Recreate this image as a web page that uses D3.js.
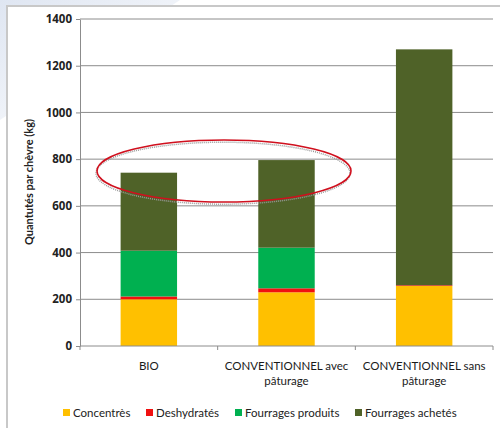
<!DOCTYPE html>
<html><head><meta charset="utf-8">
<script src="https://cdn.jsdelivr.net/npm/d3@7"></script>
<style>body{margin:0;background:#fff;}svg{display:block;font-family:Lato,"Open Sans",sans-serif;}</style>
</head><body>
<svg id="c" width="500" height="428"></svg>
<script>
const categories = ["BIO", "CONVENTIONNEL avec pâturage", "CONVENTIONNEL sans pâturage"];
const categoryLines = [["BIO"], ["CONVENTIONNEL avec", "pâturage"], ["CONVENTIONNEL sans", "pâturage"]];
const seriesNames = ["Concentrès", "Deshydratés", "Fourrages produits", "Fourrages achetés"];
const concentres = [200, 230, 257];
const deshydrates = [12, 17, 3];
const fourragesProduits = [196, 174, 0];
const fourragesAchetes = [334, 375, 1010];
const seriesColors = ["#FFC000", "#F01010", "#00B050", "#4F6228"];
const yTicks = [0, 200, 400, 600, 800, 1000, 1200, 1400];
const yTitle = "Quantutés par chèvre (kg)";

const svg = d3.select("#c");
const defs = svg.append("defs");
const g1 = defs.append("linearGradient").attr("id","bg").attr("x1","0").attr("y1","0").attr("x2","1").attr("y2","1");
g1.append("stop").attr("offset","0").attr("stop-color","#dfe6f2");
g1.append("stop").attr("offset","1").attr("stop-color","#ffffff");
svg.append("rect").attr("width",500).attr("height",428).attr("fill","#fff");
svg.append("path").attr("d","M0,0 L180,0 L0,120 Z").attr("fill","url(#bg)");
svg.append("rect").attr("x",7).attr("y",6).attr("width",510).attr("height",440)
  .attr("fill","#fff").attr("stroke","#c8c8c8").attr("stroke-width",2);

const m = {l:80, r:493, t:19, b:346};
const x = d3.scaleBand().domain(categories).range([m.l, m.r]).paddingInner(0.59).paddingOuter(0.295);
const y = d3.scaleLinear().domain([0,1400]).range([m.b, m.t]);

svg.append("g").selectAll("line").data(yTicks.slice(1)).join("line")
  .attr("x1", m.l).attr("x2", m.r).attr("y1", d=>y(d)).attr("y2", d=>y(d))
  .attr("stroke","#8c8c8c").attr("stroke-width",1);

const rows = categories.map((c,i)=>({cat:c, s0:concentres[i], s1:deshydrates[i], s2:fourragesProduits[i], s3:fourragesAchetes[i]}));
const stack = d3.stack().keys(["s0","s1","s2","s3"])(rows);
svg.append("g").selectAll("g").data(stack).join("g").attr("fill",(d,i)=>seriesColors[i])
  .selectAll("rect").data(d=>d).join("rect")
  .attr("x", d=>x(d.data.cat)).attr("width", x.bandwidth())
  .attr("y", d=>y(d[1])).attr("height", d=>Math.max(0, y(d[0])-y(d[1])));

const ya = d3.axisLeft(y).tickValues(yTicks).tickFormat(d3.format("d")).tickSize(4).tickSizeOuter(0);
const yg = svg.append("g").attr("transform",`translate(${m.l},0)`).call(ya);
yg.select(".domain").attr("stroke","#8c8c8c");
yg.selectAll(".tick line").attr("stroke","#8c8c8c");
yg.selectAll("text").attr("font-size",11.5).attr("font-weight","bold").attr("fill","#222").attr("x",-8)
  .attr("font-family","'Open Sans',sans-serif");

const xa = d3.axisBottom(x).tickSize(0).tickFormat(()=> "");
const xg = svg.append("g").attr("transform",`translate(0,${m.b})`).call(xa);
xg.select(".domain").attr("stroke","#8c8c8c").attr("d",`M${m.l},0H${m.r}`);
const step = x.step();
xg.selectAll(".sep").data(d3.range(4)).join("line").attr("class","sep")
  .attr("x1", i=>m.l + i*step).attr("x2", i=>m.l + i*step).attr("y1",0).attr("y2",4).attr("stroke","#8c8c8c");

svg.append("g").selectAll("text").data(categories).join("text")
  .attr("x", d=>x(d)+x.bandwidth()/2).attr("y", 370).attr("text-anchor","middle")
  .attr("font-size",11.5).attr("fill","#1a1a1a")
  .selectAll("tspan").data((d,i)=>categoryLines[i]).join("tspan")
  .attr("x", function(){return this.parentNode.getAttribute("x");})
  .attr("dy",(d,i)=> i===0?0:15).text(d=>d);

svg.append("text").attr("transform","translate(33,182) rotate(-90)").attr("text-anchor","middle")
  .attr("font-size",11).attr("font-weight","bold").attr("fill","#222").text(yTitle);

const legX = [63, 146, 235, 355];
const lg = svg.append("g").selectAll("g").data(seriesNames).join("g")
  .attr("transform",(d,i)=>`translate(${legX[i]},413)`);
lg.append("rect").attr("x",0).attr("y",-4).attr("width",7).attr("height",7).attr("fill",(d,i)=>seriesColors[i]);
lg.append("text").attr("x",10).attr("y",4).attr("font-size",11.5).attr("fill","#222").text(d=>d);

svg.append("ellipse").attr("cx",224).attr("cy",172).attr("rx",127).attr("ry",31)
  .attr("fill","none").attr("stroke","#9a9a9a").attr("stroke-width",1.5).attr("stroke-dasharray","1 1")
  .attr("transform","translate(-1,1.2)");
svg.append("ellipse").attr("cx",224).attr("cy",171).attr("rx",127).attr("ry",31)
  .attr("fill","none").attr("stroke","#d0101e").attr("stroke-width",1.6);
</script>
</body></html>
